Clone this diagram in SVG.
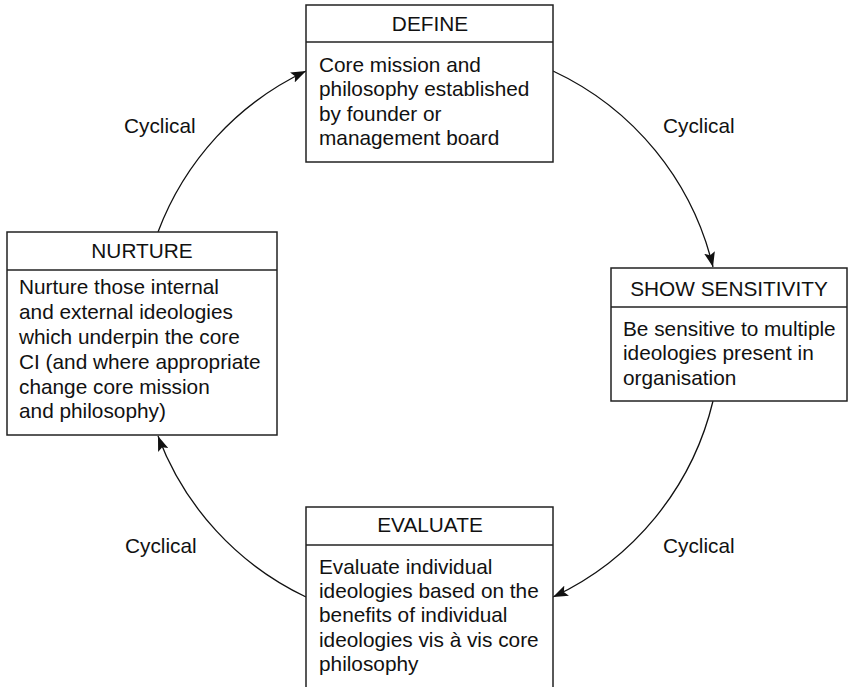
<svg xmlns="http://www.w3.org/2000/svg" width="849" height="687" viewBox="0 0 849 687">
<style>
.box{fill:#fff;stroke:#222;stroke-width:1.5}
.div{stroke:#222;stroke-width:1.5}
text{font-family:"Liberation Sans",Arial,sans-serif;font-size:20.8px;fill:#111}
.h{text-anchor:middle}
.con{fill:none;stroke:#111;stroke-width:1.3}
</style>
<defs>
<marker id="arr" viewBox="0 0 15 11" refX="15" refY="5.5" markerWidth="15" markerHeight="11" markerUnits="userSpaceOnUse" orient="auto">
<path d="M0,0 L15,5.5 L0,11 L3,5.5 z" fill="#111"/>
</marker>
</defs>
<g id="connectors">
<path class="con" d="M553 71 A291 291 0 0 1 713 267" marker-end="url(#arr)"/>
<path class="con" d="M713 401 A291 291 0 0 1 553 597" marker-end="url(#arr)"/>
<path class="con" d="M306 597 A291 291 0 0 1 158 436" marker-end="url(#arr)"/>
<path class="con" d="M158 232 A291 291 0 0 1 306 71" marker-end="url(#arr)"/>
<text x="124" y="133">Cyclical</text>
<text x="663" y="133">Cyclical</text>
<text x="663" y="553">Cyclical</text>
<text x="125" y="553">Cyclical</text>
</g>
<g id="define">
<rect class="box" x="306" y="5" width="247" height="157"/>
<line class="div" x1="306" y1="42" x2="553" y2="42"/>
<text class="h" x="430" y="31">DEFINE</text>
<text x="319" y="72">Core mission and</text>
<text x="319" y="96">philosophy established</text>
<text x="319" y="121">by founder or</text>
<text x="319" y="145">management board</text>
</g>
<g id="show-sensitivity">
<rect class="box" x="611" y="268" width="236" height="133"/>
<line class="div" x1="611" y1="307" x2="847" y2="307"/>
<text class="h" x="729" y="296">SHOW SENSITIVITY</text>
<text x="623" y="336">Be sensitive to multiple</text>
<text x="623" y="360">ideologies present in</text>
<text x="623" y="385">organisation</text>
</g>
<g id="evaluate">
<rect class="box" x="306" y="507" width="247" height="200"/>
<line class="div" x1="306" y1="545" x2="553" y2="545"/>
<text class="h" x="430" y="532">EVALUATE</text>
<text x="319" y="574">Evaluate individual</text>
<text x="319" y="598">ideologies based on the</text>
<text x="319" y="622">benefits of individual</text>
<text x="319" y="647">ideologies vis à vis core</text>
<text x="319" y="671">philosophy</text>
</g>
<g id="nurture">
<rect class="box" x="7" y="232" width="270" height="203"/>
<line class="div" x1="7" y1="270" x2="277" y2="270"/>
<text class="h" x="142" y="258">NURTURE</text>
<text x="19" y="294">Nurture those internal</text>
<text x="19" y="319">and external ideologies</text>
<text x="19" y="344">which underpin the core</text>
<text x="19" y="369">CI (and where appropriate</text>
<text x="19" y="394">change core mission</text>
<text x="19" y="418">and philosophy)</text>
</g>
</svg>
